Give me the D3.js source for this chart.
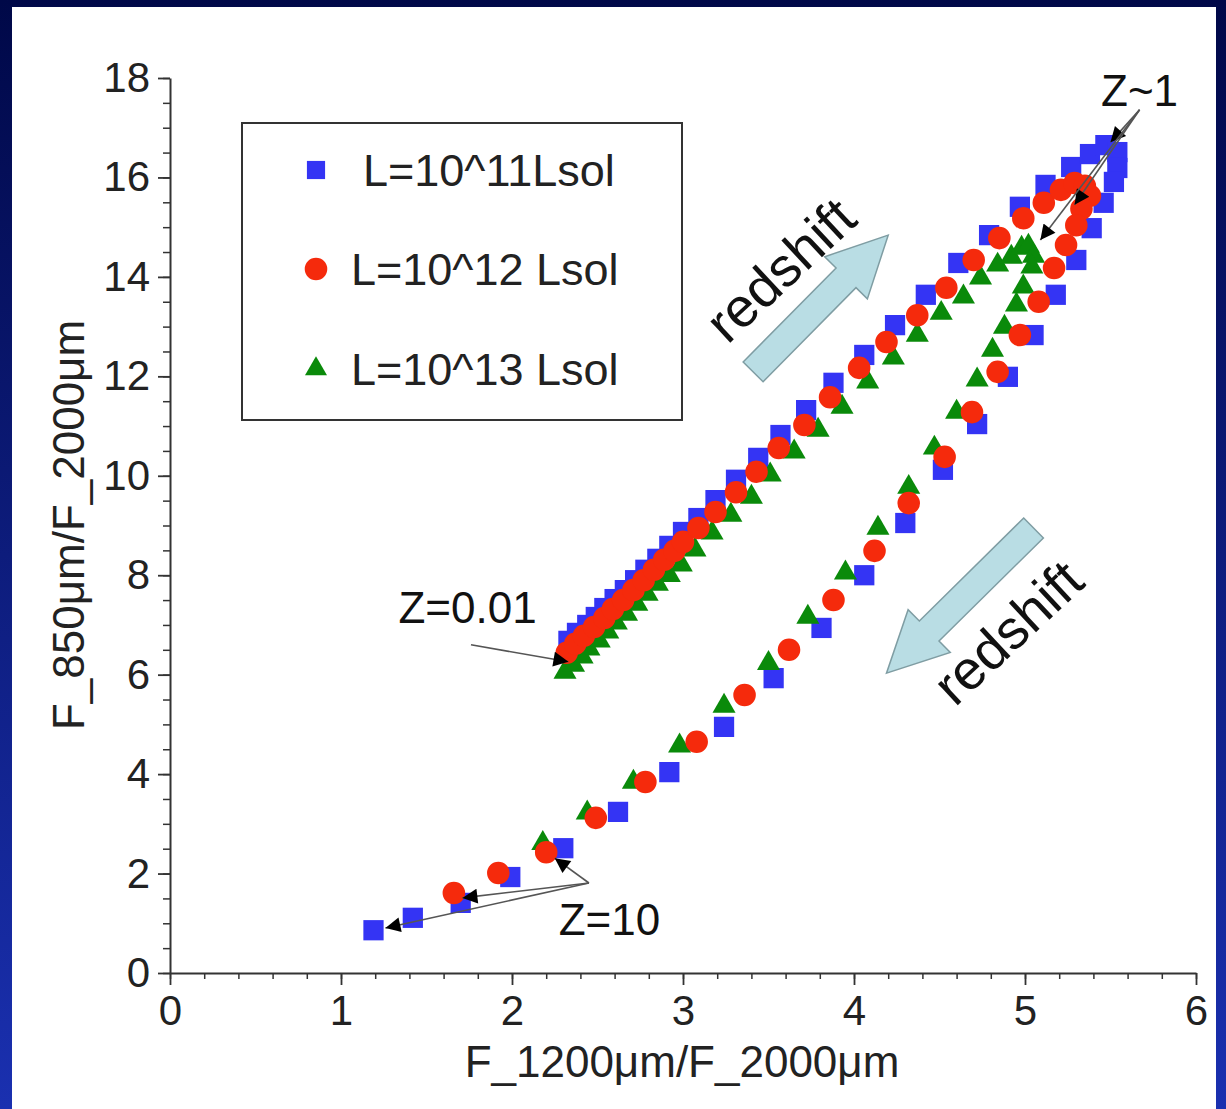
<!DOCTYPE html>
<html>
<head>
<meta charset="utf-8">
<script src="https://cdn.jsdelivr.net/npm/d3@7"></script>
<style>
  html, body { margin: 0; padding: 0; background: #000848; }
  svg { display: block; }
  text { font-family: "Liberation Sans", Arial, Helvetica, sans-serif; }
</style>
</head>
<body>
<svg id="chart" width="1226" height="1109"></svg>
<script>
// ---------------- data ----------------
const xTicks = [0, 1, 2, 3, 4, 5, 6];
const yTicks = [0, 2, 4, 6, 8, 10, 12, 14, 16, 18];
const seriesNames = ["L=10^11Lsol", "L=10^12 Lsol", "L=10^13 Lsol"];

const l11X = [2.33,2.38,2.44,2.49,2.54,2.60,2.66,2.72,2.78,2.85,2.92,3.00,3.09,3.19,3.31,3.44,3.57,3.72,3.88,4.06,4.24,4.42,4.61,4.79,4.97,5.12,5.27,5.38,5.47,5.54,5.54,5.52,5.46,5.39,5.30,5.18,5.05,4.90,4.72,4.52,4.30,4.06,3.81,3.53,3.24,2.92,2.62,2.30,1.99,1.70,1.42,1.19];
const l11Y = [6.68,6.84,7.00,7.16,7.34,7.52,7.70,7.90,8.11,8.33,8.59,8.87,9.15,9.51,9.92,10.36,10.82,11.32,11.87,12.43,13.03,13.64,14.28,14.84,15.41,15.85,16.21,16.47,16.65,16.51,16.19,15.91,15.49,14.98,14.34,13.64,12.83,11.99,11.04,10.12,9.05,8.00,6.94,5.93,4.95,4.04,3.24,2.51,1.93,1.41,1.11,0.86];

const l12X = [2.32,2.37,2.42,2.48,2.54,2.59,2.65,2.71,2.77,2.83,2.89,2.95,3.00,3.09,3.19,3.31,3.43,3.56,3.71,3.86,4.03,4.19,4.37,4.54,4.70,4.85,4.99,5.11,5.21,5.29,5.35,5.38,5.33,5.30,5.24,5.17,5.08,4.97,4.84,4.69,4.53,4.32,4.12,3.88,3.62,3.36,3.08,2.78,2.49,2.20,1.92,1.66];
const l12Y = [6.44,6.62,6.78,6.96,7.14,7.32,7.50,7.70,7.90,8.11,8.31,8.49,8.67,8.95,9.27,9.67,10.08,10.56,11.02,11.58,12.17,12.69,13.23,13.78,14.34,14.78,15.18,15.49,15.75,15.89,15.83,15.63,15.37,15.04,14.64,14.18,13.50,12.83,12.09,11.28,10.38,9.45,8.49,7.50,6.50,5.59,4.65,3.84,3.12,2.43,2.01,1.61];

const l13X = [2.31,2.36,2.41,2.45,2.51,2.56,2.61,2.67,2.73,2.79,2.85,2.92,2.99,3.07,3.17,3.28,3.40,3.51,3.65,3.79,3.93,4.08,4.23,4.37,4.51,4.64,4.74,4.84,4.92,4.98,5.02,5.05,5.04,4.99,4.95,4.88,4.81,4.72,4.60,4.47,4.32,4.14,3.95,3.73,3.50,3.24,2.98,2.71,2.44,2.18];
const l13Y = [6.05,6.19,6.36,6.52,6.68,6.86,7.04,7.22,7.42,7.62,7.82,8.00,8.21,8.51,8.85,9.21,9.57,10.02,10.48,10.92,11.38,11.89,12.37,12.83,13.27,13.60,13.98,14.24,14.40,14.58,14.62,14.42,14.20,13.80,13.44,12.99,12.53,11.93,11.28,10.56,9.77,8.95,8.05,7.16,6.23,5.37,4.57,3.84,3.22,2.61];

// annotations (data units)
const annotZ1 = { label: "Z~1", text: [5.67, 17.75], from: [5.67, 17.36], to: [[5.50, 16.71], [5.29, 15.45], [5.09, 14.74]] };
const annotZ001 = { label: "Z=0.01", text: [1.74, 7.35], from: [1.76, 6.60], to: [[2.33, 6.26]] };
const annotZ10 = { label: "Z=10", text: [2.57, 1.07], from: [2.45, 1.81], to: [[2.25, 2.31], [1.71, 1.51], [1.26, 0.905]] };
const redshiftArrows = [
  { tail: [3.41, 12.09], tip: [4.20, 14.84], label: [3.57, 14.14] },
  { tail: [5.05, 8.95], tip: [4.19, 6.03], label: [4.90, 6.85] }
];

// ---------------- drawing ----------------
const W = 1226, H = 1109;
const svg = d3.select("#chart");
const defs = svg.append("defs");

const grad = defs.append("linearGradient").attr("id", "frameGrad")
  .attr("x1", 0).attr("y1", 0).attr("x2", 0).attr("y2", 1);
grad.append("stop").attr("offset", "0%").attr("stop-color", "#000848");
grad.append("stop").attr("offset", "100%").attr("stop-color", "#1a30b0");

svg.append("rect").attr("width", W).attr("height", H).attr("fill", "url(#frameGrad)");
svg.append("rect").attr("x", 12).attr("y", 7).attr("width", 1204).attr("height", H - 7).attr("fill", "#ffffff");

defs.append("marker").attr("id", "ah")
  .attr("viewBox", "0 0 10 10").attr("refX", 10).attr("refY", 5)
  .attr("markerUnits", "userSpaceOnUse")
  .attr("markerWidth", 20).attr("markerHeight", 15)
  .attr("orient", "auto")
  .append("path").attr("d", "M0,0 L10,5 L0,10 Z").attr("fill", "#000");

const x = d3.scaleLinear().domain([0, 6]).range([170, 1196]);
const y = d3.scaleLinear().domain([0, 18]).range([973, 78]);

const font = '"Liberation Sans", Arial, sans-serif';
const axisColor = "#333";

// minor ticks
svg.append("g").attr("transform", `translate(0,${y(0)})`)
  .call(d3.axisBottom(x).tickValues(d3.range(0, 6.001, 0.2)).tickSize(6).tickSizeOuter(0).tickFormat(""))
  .call(g => g.select(".domain").remove())
  .call(g => g.selectAll("line").attr("stroke", axisColor).attr("stroke-width", 1.5));
svg.append("g").attr("transform", `translate(${x(0)},0)`)
  .call(d3.axisLeft(y).tickValues(d3.range(0, 18.001, 0.5)).tickSize(7).tickSizeOuter(0).tickFormat(""))
  .call(g => g.select(".domain").remove())
  .call(g => g.selectAll("line").attr("stroke", axisColor).attr("stroke-width", 1.5));

// major axes
const xAxis = svg.append("g").attr("transform", `translate(0,${y(0)})`)
  .call(d3.axisBottom(x).tickValues(xTicks).tickSize(12).tickSizeOuter(0).tickPadding(10).tickFormat(d3.format("d")));
const yAxis = svg.append("g").attr("transform", `translate(${x(0)},0)`)
  .call(d3.axisLeft(y).tickValues(yTicks).tickSize(12).tickSizeOuter(0).tickPadding(8).tickFormat(d3.format("d")));
[xAxis, yAxis].forEach(g => {
  g.select(".domain").attr("stroke", axisColor).attr("stroke-width", 2);
  g.selectAll(".tick line").attr("stroke", axisColor).attr("stroke-width", 1.8);
  g.selectAll(".tick text").attr("font-family", font).attr("font-size", 42).attr("fill", "#222");
});

// axis titles
svg.append("text").attr("x", 682).attr("y", 1077).attr("text-anchor", "middle")
  .attr("font-size", 44).attr("fill", "#222").text("F_1200μm/F_2000μm");
svg.append("text").attr("transform", "translate(84,525) rotate(-90)").attr("text-anchor", "middle")
  .attr("font-size", 44).attr("fill", "#222").text("F_850μm/F_2000μm");

// redshift block arrows
function blockArrow(tailD, tipD) {
  const t = [x(tailD[0]), y(tailD[1])], p = [x(tipD[0]), y(tipD[1])];
  const dx = p[0] - t[0], dy = p[1] - t[1], L = Math.hypot(dx, dy);
  const u = [dx / L, dy / L], n = [-u[1], u[0]];
  const sh = 14, hh = 30, hl = 60;
  const b = [p[0] - u[0] * hl, p[1] - u[1] * hl];
  const pts = [
    [t[0] + n[0] * sh, t[1] + n[1] * sh],
    [b[0] + n[0] * sh, b[1] + n[1] * sh],
    [b[0] + n[0] * hh, b[1] + n[1] * hh],
    p,
    [b[0] - n[0] * hh, b[1] - n[1] * hh],
    [b[0] - n[0] * sh, b[1] - n[1] * sh],
    [t[0] - n[0] * sh, t[1] - n[1] * sh]
  ];
  return "M" + pts.map(q => q.join(",")).join("L") + "Z";
}
redshiftArrows.forEach(a => {
  svg.append("path").attr("d", blockArrow(a.tail, a.tip))
    .attr("fill", "#b9dde4").attr("stroke", "#7f9da3").attr("stroke-width", 1.5);
  svg.append("text").attr("transform", `translate(${x(a.label[0])},${y(a.label[1])}) rotate(-43)`)
    .attr("text-anchor", "middle").attr("dominant-baseline", "central")
    .attr("font-size", 55).attr("fill", "#111").text("redshift");
});

// data points
const sym = d3.symbol();
const series = [
  { xs: l11X, ys: l11Y, type: d3.symbolSquare, size: 410, color: "#3434f4" },
  { xs: l13X, ys: l13Y, type: d3.symbolTriangle, size: 230, color: "#0a8a0a" },
  { xs: l12X, ys: l12Y, type: d3.symbolCircle, size: 400, color: "#f52a0c" }
];
series.forEach(s => {
  const pts = s.xs.map((v, i) => [v, s.ys[i]]);
  svg.append("g").selectAll("path").data(pts).join("path")
    .attr("transform", d => `translate(${x(d[0])},${y(d[1])})`)
    .attr("d", sym.type(s.type).size(s.size)())
    .attr("fill", s.color);
});

// annotations
[annotZ1, annotZ001, annotZ10].forEach(a => {
  a.to.forEach(t => {
    svg.append("line")
      .attr("x1", x(a.from[0])).attr("y1", y(a.from[1]))
      .attr("x2", x(t[0])).attr("y2", y(t[1]))
      .attr("stroke", "#555").attr("stroke-width", 1.6)
      .attr("marker-end", "url(#ah)");
  });
  svg.append("text").attr("x", x(a.text[0])).attr("y", y(a.text[1]))
    .attr("text-anchor", "middle").attr("dominant-baseline", "central")
    .attr("font-size", 44).attr("fill", "#111").text(a.label);
});

// legend
const lg = svg.append("g");
lg.append("rect").attr("x", 242).attr("y", 123).attr("width", 440).attr("height", 297)
  .attr("fill", "#fff").attr("stroke", "#333").attr("stroke-width", 2);
const legendItems = [
  { name: seriesNames[0], type: d3.symbolSquare, size: 330, color: "#3434f4", ly: 170, tx: 363 },
  { name: seriesNames[1], type: d3.symbolCircle, size: 400, color: "#f52a0c", ly: 269, tx: 351 },
  { name: seriesNames[2], type: d3.symbolTriangle, size: 210, color: "#0a8a0a", ly: 369, tx: 351 }
];
legendItems.forEach(it => {
  lg.append("path").attr("transform", `translate(316,${it.ly})`)
    .attr("d", sym.type(it.type).size(it.size)()).attr("fill", it.color);
  lg.append("text").attr("x", it.tx).attr("y", it.ly).attr("dominant-baseline", "central")
    .attr("font-size", 45).attr("fill", "#222").text(it.name);
});
</script>
</body>
</html>
